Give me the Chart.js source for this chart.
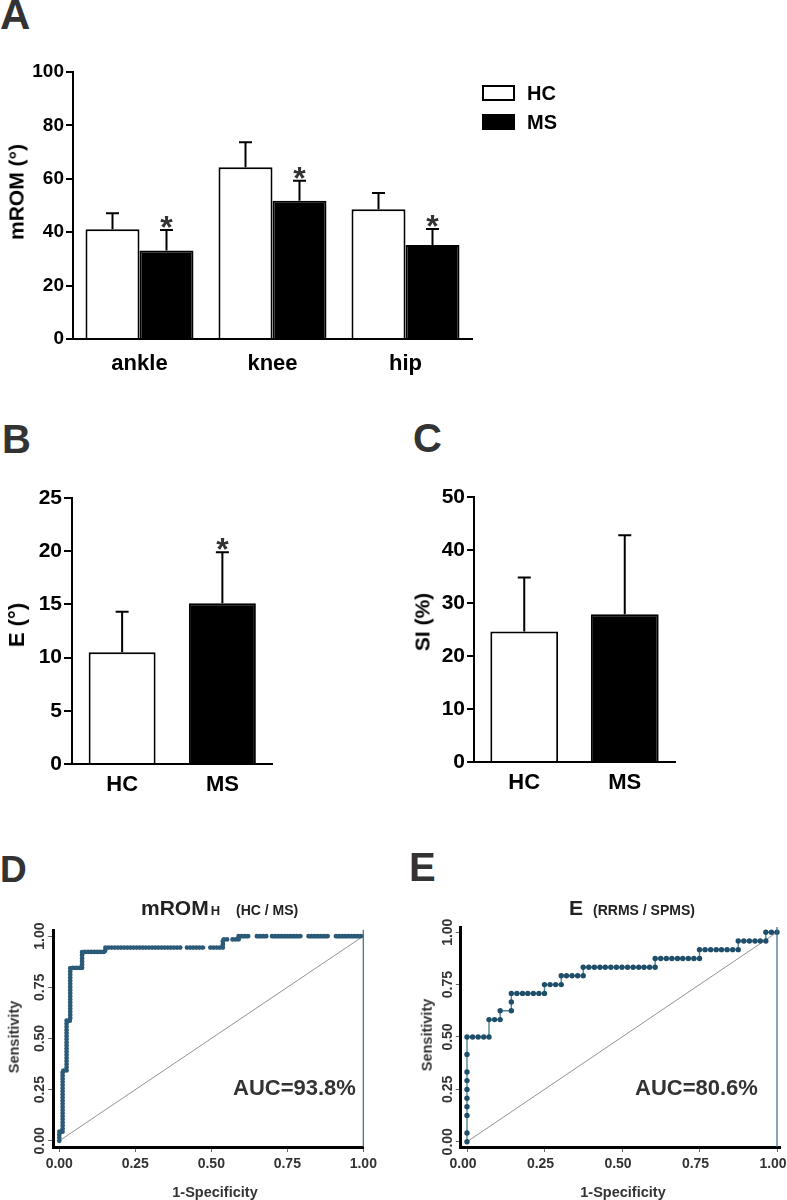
<!DOCTYPE html>
<html lang="en">
<head>
<meta charset="utf-8">
<script src="https://cdnjs.cloudflare.com/ajax/libs/Chart.js/4.4.1/chart.umd.min.js"></script>
<title>mROM, E, SI and ROC</title>
<style>
  body { margin: 0; background: #fff; width: 787px; height: 1200px; position: relative; overflow: hidden;
         font-family: "Liberation Sans", Arial, sans-serif; font-weight: bold; }
  .box { position: absolute; }
  .txt { position: absolute; white-space: nowrap; line-height: 1; }
  .rot { position: absolute; white-space: nowrap; line-height: 1; transform: translate(-50%, -50%) rotate(-90deg); }
  .ctr { position: absolute; white-space: nowrap; line-height: 1; transform: translate(-50%, -50%); }
</style>
</head>
<body>
<!-- panel letters -->
<div class="txt" style="left:0;top:-6px;font-size:42px;color:#333">A</div>
<div class="txt" style="left:2px;top:419px;font-size:40px;color:#333">B</div>
<div class="txt" style="left:413px;top:418px;font-size:40px;color:#333">C</div>
<div class="txt" style="left:0;top:851px;font-size:37px;color:#333">D</div>
<div class="txt" style="left:409px;top:847px;font-size:40px;color:#333">E</div>

<!-- A -->
<div class="box" style="left:0;top:40px;width:500px;height:345px"><canvas id="chartA"></canvas></div>
<div class="rot" style="left:16px;top:192px;font-size:21px">mROM (°)</div>
<div class="box" style="left:482px;top:85px;width:33px;height:16px;border:2px solid #000;box-sizing:border-box;background:#fff"></div>
<div class="box" style="left:482px;top:114px;width:33px;height:16px;background:#000"></div>
<div class="txt" style="left:527px;top:83px;font-size:20px">HC</div>
<div class="txt" style="left:527px;top:112px;font-size:20px">MS</div>

<!-- B -->
<div class="box" style="left:0;top:470px;width:300px;height:334px"><canvas id="chartB"></canvas></div>
<div class="rot" style="left:17px;top:625px;font-size:22px">E (°)</div>

<!-- C -->
<div class="box" style="left:400px;top:470px;width:300px;height:332px"><canvas id="chartC"></canvas></div>
<div class="rot" style="left:422px;top:622px;font-size:21px">SI (%)</div>

<!-- D -->
<div class="box" style="left:0;top:840px;width:400px;height:360px"><canvas id="chartD"></canvas></div>
<div class="txt" style="left:141px;top:897px;font-size:21px;color:#222">mROM<span style="font-size:13px;margin-left:2px">H</span><span style="font-size:14px;margin-left:16px">(HC / MS)</span></div>
<div class="rot" style="left:14px;top:1037px;font-size:14.5px;color:#333">Sensitivity</div>
<div class="ctr" style="left:215px;top:1192px;font-size:14.5px;color:#333">1-Specificity</div>
<div class="txt" style="left:233px;top:1077px;font-size:22px;color:#333">AUC=93.8%</div>

<!-- E -->
<div class="box" style="left:400px;top:840px;width:387px;height:360px"><canvas id="chartE"></canvas></div>
<div class="txt" style="left:569px;top:897px;font-size:21px;color:#222">E<span style="font-size:14px;margin-left:10px">(RRMS / SPMS)</span></div>
<div class="rot" style="left:427px;top:1035px;font-size:14.5px;color:#333">Sensitivity</div>
<div class="ctr" style="left:623px;top:1192px;font-size:14.5px;color:#333">1-Specificity</div>
<div class="txt" style="left:635px;top:1077px;font-size:22px;color:#333">AUC=80.6%</div>

<script>
// ---- data ----
const joints = ['ankle', 'knee', 'hip'];
const hcROM = [41.1, 64.3, 48.6];
const hcROMsd = [6.0, 9.4, 6.1];
const msROM = [33.1, 51.8, 35.2];
const msROMsd = [7.7, 7.5, 6.0];
const msROMstar = [true, true, true];

const groups = ['HC', 'MS'];
const eMean = [10.5, 15.1];
const eSD = [3.8, 4.8];
const eStar = [false, true];
const siMean = [24.6, 27.9];
const siSD = [10.2, 14.9];

const romTicks = [0, 20, 40, 60, 80, 100];
const rocTicks = [0, 0.25, 0.5, 0.75, 1];
const chance = [0, 1];

// ROC D (HC / MS): step outline, null = gap in the dotted trace
const rocD_fpr = [0, 0, 0.011, 0.011, 0.024, 0.024, 0.036, 0.036, 0.075, 0.075,
  0.151, 0.151, 0.404, null, 0.42, 0.48, null, 0.497, 0.538, 0.538, 0.553, null,
  0.57, 0.59, 0.59, 0.628, null, 0.65, 0.683, null, 0.70, 0.80, null, 0.82, 0.89, null, 0.91, 1.0];
const rocD_tpr = [0, 0.045, 0.045, 0.343, 0.343, 0.587, 0.587, 0.845, 0.845, 0.923,
  0.923, 0.944, 0.944, null, 0.944, 0.944, null, 0.944, 0.944, 0.984, 0.984, null,
  0.984, 0.984, 1, 1, null, 1, 1, null, 1, 1, null, 1, 1, null, 1, 1];

// ROC E (RRMS / SPMS): every plotted point
const rocE_fpr = [0, 0, 0, 0, 0, 0, 0, 0, 0, 0,
  0.018, 0.036, 0.054, 0.071,
  0.071, 0.089, 0.107,
  0.107, 0.143,
  0.143, 0.143,
  0.161, 0.179, 0.196, 0.214, 0.232, 0.25,
  0.25, 0.268, 0.286, 0.304,
  0.304, 0.321, 0.339, 0.357, 0.375,
  0.375, 0.393, 0.411, 0.429, 0.446, 0.464, 0.482, 0.5, 0.518, 0.536, 0.554, 0.571, 0.589, 0.607,
  0.607, 0.625, 0.643, 0.661, 0.679, 0.696, 0.714, 0.732, 0.75,
  0.75, 0.768, 0.786, 0.804, 0.821, 0.839, 0.857, 0.875,
  0.875, 0.893, 0.911, 0.929, 0.946, 0.964,
  0.964, 0.982, 1.0];
const rocE_tpr = [0, 0.042, 0.125, 0.167, 0.208, 0.25, 0.292, 0.333, 0.417, 0.5,
  0.5, 0.5, 0.5, 0.5,
  0.583, 0.583, 0.583,
  0.625, 0.625,
  0.667, 0.708,
  0.708, 0.708, 0.708, 0.708, 0.708, 0.708,
  0.75, 0.75, 0.75, 0.75,
  0.792, 0.792, 0.792, 0.792, 0.792,
  0.833, 0.833, 0.833, 0.833, 0.833, 0.833, 0.833, 0.833, 0.833, 0.833, 0.833, 0.833, 0.833, 0.833,
  0.875, 0.875, 0.875, 0.875, 0.875, 0.875, 0.875, 0.875, 0.875,
  0.917, 0.917, 0.917, 0.917, 0.917, 0.917, 0.917, 0.917,
  0.958, 0.958, 0.958, 0.958, 0.958, 0.958,
  1, 1, 1];

const FONT = '"Liberation Sans", Arial, sans-serif';
Chart.defaults.font.family = FONT;
Chart.defaults.font.weight = 'bold';
Chart.defaults.color = '#000';
Chart.defaults.animation = false;
Chart.defaults.plugins.legend.display = false;
Chart.defaults.plugins.tooltip.enabled = false;

// upper error bar + asterisk above bars
const errorBars = {
  id: 'errorBars',
  afterDatasetsDraw(chart) {
    const ctx = chart.ctx, y = chart.scales.y;
    chart.data.datasets.forEach((ds, i) => {
      chart.getDatasetMeta(i).data.forEach((bar, j) => {
        const top = y.getPixelForValue(ds.data[j] + ds.err[j]);
        ctx.save();
        ctx.strokeStyle = '#000';
        ctx.lineWidth = 2;
        ctx.beginPath();
        ctx.moveTo(bar.x, bar.y);
        ctx.lineTo(bar.x, top);
        ctx.moveTo(bar.x - 6.5, top);
        ctx.lineTo(bar.x + 6.5, top);
        ctx.stroke();
        if (ds.star && ds.star[j]) {
          ctx.fillStyle = '#333';
          ctx.font = 'bold 32px ' + FONT;
          ctx.textAlign = 'center';
          ctx.fillText('*', bar.x, top + 8);
        }
        ctx.restore();
      });
    });
  }
};

// rotated y tick labels and the x = 1 edge line on the ROC panels
const rocExtras = {
  id: 'rocExtras',
  afterDraw(chart) {
    const ctx = chart.ctx, xs = chart.scales.x, ys = chart.scales.y, a = chart.chartArea;
    ctx.save();
    ctx.strokeStyle = '#3f6786';
    ctx.lineWidth = 1.2;
    const px = xs.getPixelForValue(1);
    ctx.beginPath();
    ctx.moveTo(px, a.top);
    ctx.lineTo(px, a.bottom);
    ctx.stroke();
    ctx.fillStyle = '#333';
    ctx.font = 'bold 14px ' + FONT;
    ctx.textAlign = 'center';
    ctx.textBaseline = 'middle';
    ys.ticks.forEach(t => {
      ctx.save();
      ctx.translate(a.left - 13, ys.getPixelForValue(t.value));
      ctx.rotate(-Math.PI / 2);
      ctx.fillText(t.value.toFixed(2), 0, 0);
      ctx.restore();
    });
    ctx.restore();
  }
};

function barOptions(o) {
  return {
    responsive: true,
    maintainAspectRatio: false,
    layout: {padding: {top: o.padTop, right: o.padRight, left: 0, bottom: 0}},
    scales: {
      x: {
        grid: {display: false, drawTicks: false},
        border: {color: '#000', width: 2},
        ticks: {font: {size: 22}, padding: o.xPad, color: '#000'},
        afterFit: s => { s.height = o.xHeight; s.paddingLeft = 0; s.paddingRight = 0; }
      },
      y: {
        min: 0, max: o.yMax,
        ticks: {stepSize: o.yStep, font: {size: o.tickSize}, padding: 2, color: '#000'},
        grid: {drawOnChartArea: false, tickLength: o.tickLen, color: '#000', lineWidth: 2},
        border: {color: '#000', width: 2},
        afterFit: s => { s.width = o.yWidth; }
      }
    }
  };
}

new Chart('chartA', {
  type: 'bar',
  data: {
    labels: joints,
    datasets: [
      {label: 'HC', data: hcROM, err: hcROMsd, backgroundColor: '#fff', borderColor: '#000', borderWidth: 2,
       categoryPercentage: 0.812, barPercentage: 1},
      {label: 'MS', data: msROM, err: msROMsd, star: msROMstar, backgroundColor: '#000', borderColor: '#000', borderWidth: 2,
       categoryPercentage: 0.812, barPercentage: 1}
    ]
  },
  options: barOptions({padTop: 32, padRight: 28, yWidth: 73, xHeight: 46, xPad: 12,
                       yMax: 100, yStep: 20, tickSize: 19, tickLen: 7}),
  plugins: [errorBars]
});

new Chart('chartB', {
  type: 'bar',
  data: {
    labels: groups,
    datasets: [{data: eMean, err: eSD, star: eStar, backgroundColor: ['#fff', '#000'], borderColor: '#000',
                borderWidth: 2, categoryPercentage: 0.668, barPercentage: 1}]
  },
  options: barOptions({padTop: 28, padRight: 27.5, yWidth: 72, xHeight: 40, xPad: 8,
                       yMax: 25, yStep: 5, tickSize: 21, tickLen: 8}),
  plugins: [errorBars]
});

new Chart('chartC', {
  type: 'bar',
  data: {
    labels: groups,
    datasets: [{data: siMean, err: siSD, backgroundColor: ['#fff', '#000'], borderColor: '#000',
                borderWidth: 2, categoryPercentage: 0.675, barPercentage: 1}]
  },
  options: barOptions({padTop: 27, padRight: 25, yWidth: 74, xHeight: 40, xPad: 8,
                       yMax: 50, yStep: 10, tickSize: 21, tickLen: 7}),
  plugins: [errorBars]
});

function rocOptions(o) {
  return {
    responsive: true,
    maintainAspectRatio: false,
    layout: {padding: {top: o.padTop, right: o.padRight, left: 0, bottom: 0}},
    scales: {
      x: {
        type: 'linear', min: o.xMin, max: o.xMax,
        afterBuildTicks: s => { s.ticks = rocTicks.map(v => ({value: v})); },
        ticks: {callback: v => v.toFixed(2), font: {size: 14}, color: '#333', padding: 4, labelOffset: o.labelOffset},
        grid: {drawOnChartArea: false, tickLength: 5, color: '#666', lineWidth: 1},
        border: {color: '#000', width: 3},
        afterFit: s => { s.height = 53; s.paddingLeft = 0; s.paddingRight = 0; }
      },
      y: {
        type: 'linear', min: o.yMin, max: o.yMax,
        afterBuildTicks: s => { s.ticks = rocTicks.map(v => ({value: v})); },
        ticks: {display: false},
        grid: {drawOnChartArea: false, tickLength: 5, color: '#666', lineWidth: 1},
        border: {color: '#000', width: 3},
        afterFit: s => { s.width = o.yWidth; s.paddingTop = 0; s.paddingBottom = 0; }
      }
    }
  };
}

const chanceLine = chance.map(v => ({x: v, y: v}));
const rocDPoints = rocD_fpr.map((x, i) => ({x: x, y: rocD_tpr[i]}));
const rocEPoints = rocE_fpr.map((x, i) => ({x: x, y: rocE_tpr[i]}));

new Chart('chartD', {
  type: 'scatter',
  data: {
    datasets: [
      {data: rocDPoints, showLine: true, borderColor: '#2b5a78', borderWidth: 4.8, borderDash: [0.01, 3.1],
       borderCapStyle: 'round', pointRadius: 0, clip: 6},
      {data: rocDPoints, showLine: true, borderColor: '#2b5a78', borderWidth: 2.6, pointRadius: 0, clip: 6},
      {data: chanceLine, showLine: true, borderColor: '#777', borderWidth: 0.8, pointRadius: 0}
    ]
  },
  options: rocOptions({padTop: 90, padRight: 36.7, yWidth: 53.2, xMin: -0.02, xMax: 1.0,
                       yMin: -0.03, yMax: 1.03, labelOffset: 0}),
  plugins: [rocExtras]
});

new Chart('chartE', {
  type: 'scatter',
  data: {
    datasets: [
      {data: rocEPoints, showLine: true, borderColor: '#4d8692', borderWidth: 1.4,
       pointRadius: 2.7, pointBackgroundColor: '#1f4e6b', pointBorderWidth: 0, clip: 6},
      {data: chanceLine, showLine: true, borderColor: '#777', borderWidth: 0.8, pointRadius: 0}
    ]
  },
  options: rocOptions({padTop: 87, padRight: 6.9, yWidth: 60.8, xMin: -0.02, xMax: 1.01,
                       yMin: -0.025, yMax: 1.025, labelOffset: -4}),
  plugins: [rocExtras]
});
</script>
</body>
</html>
